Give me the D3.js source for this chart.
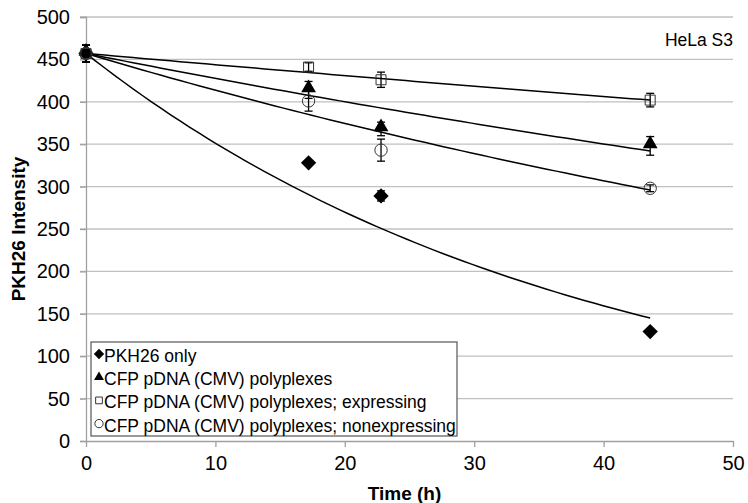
<!DOCTYPE html>
<html>
<head>
<meta charset="utf-8">
<script src="https://cdn.jsdelivr.net/npm/d3@7"></script>
<style>
  body { margin: 0; background: #fff; }
  text { font-family: "Liberation Sans", Arial, sans-serif; fill: #000; }
</style>
</head>
<body>
<div id="graph"></div>
<script>
// time points (h)
const times = [0, 17.2, 22.8, 43.6];

// series names
const seriesNames = [
  "PKH26 only",
  "CFP pDNA (CMV) polyplexes",
  "CFP pDNA (CMV) polyplexes; expressing",
  "CFP pDNA (CMV) polyplexes; nonexpressing"
];
const seriesSymbols = ["diamond", "triangle", "square", "circle"];

// mean intensity per series, one value per time point
const pkhOnly       = [457, 328, 289, 129];
const polyplexes    = [457, 414, 368, 348];
const expressing    = [457, 441, 426, 402];
const nonexpressing = [457, 401, 343, 298];

// error bar half-widths
const pkhOnlyErr       = [10, 0, 6, 0];
const polyplexesErr    = [10, 10, 8, 11];
const expressingErr    = [10, 5, 9, 8];
const nonexpressingErr = [10, 12, 13, 4];

// exponential trendlines y = a * exp(-k t), fitted in the original chart
const trendA = [457, 457, 457, 457];
const trendK = [0.02633, 0.00665, 0.00294, 0.00996];
const trendEnd = 43.6;

const xTicks = [0, 10, 20, 30, 40, 50];
const yTicks = [0, 50, 100, 150, 200, 250, 300, 350, 400, 450, 500];

const width = 748;
const height = 503;
const marginLeft = 86;
const marginRight = 15;
const marginTop = 17;
const marginBottom = 62;

const values = [pkhOnly, polyplexes, expressing, nonexpressing];
const errors = [pkhOnlyErr, polyplexesErr, expressingErr, nonexpressingErr];

const xScale = d3.scaleLinear()
                 .domain([0, 50])
                 .range([marginLeft, width - marginRight]);

const yScale = d3.scaleLinear()
                 .domain([0, 500])
                 .range([height - marginBottom, marginTop]);

const svg = d3.create("svg")
              .attr("width", width)
              .attr("height", height);

//gridlines
svg.append("g")
   .selectAll("line")
   .data(yTicks.filter(d => d > 0))
   .enter()
   .append("line")
   .attr("x1", marginLeft - 6)
   .attr("x2", width - marginRight)
   .attr("y1", d => yScale(d))
   .attr("y2", d => yScale(d))
   .attr("stroke", "#c0c0c0")
   .attr("stroke-width", 1.3)

//y-axis
const yAxis = d3.axisLeft(yScale)
                .tickValues(yTicks)
                .tickSize(6)
                .tickPadding(10)

svg.append("g")
   .attr("transform", `translate(${marginLeft}, 0)`)
   .call(yAxis)
   .call(g => g.select(".domain").attr("stroke", "#a0a0a0").attr("stroke-width", 1.3))
   .call(g => g.selectAll(".tick line").attr("stroke", "#a0a0a0").attr("stroke-width", 1.3))
   .call(g => g.selectAll("text").style("font-size", "20px"))

//x-axis
const xAxis = d3.axisBottom(xScale)
                .tickValues(xTicks)
                .tickSize(6)
                .tickPadding(9)
                .tickSizeOuter(0)

svg.append("g")
   .attr("transform", `translate(0, ${height - marginBottom})`)
   .call(xAxis)
   .call(g => g.select(".domain").attr("stroke", "#a0a0a0").attr("stroke-width", 1.3))
   .call(g => g.selectAll(".tick line").attr("stroke", "#a0a0a0").attr("stroke-width", 1.3))
   .call(g => g.selectAll("text").style("font-size", "20px"))

//axis titles
svg.append("text")
   .attr("x", xScale(25) - 5)
   .attr("y", height - 3)
   .attr("text-anchor", "middle")
   .style("font-size", "19px")
   .style("font-weight", "bold")
   .text("Time (h)")

svg.append("text")
   .attr("transform", "rotate(270)")
   .attr("x", -yScale(250))
   .attr("y", 25)
   .attr("text-anchor", "middle")
   .style("font-size", "19px")
   .style("font-weight", "bold")
   .text("PKH26 Intensity")

//trendlines
const trendLine = d3.line()
                    .x(d => xScale(d[0]))
                    .y(d => yScale(d[1]));

svg.append("g")
   .selectAll("path")
   .data(trendA.map((a, i) => d3.range(0, trendEnd + 0.01, trendEnd / 60).map(t => [t, a * Math.exp(-trendK[i] * t)])))
   .enter()
   .append("path")
   .attr("d", trendLine)
   .attr("fill", "none")
   .attr("stroke", "#000")
   .attr("stroke-width", 1.5)

//error bars
const errData = [];
values.forEach((s, i) => s.forEach((v, j) => {
  if (errors[i][j] > 0) errData.push({x: times[j], y: v, e: errors[i][j]});
}));

const bars = svg.append("g")
                .selectAll("g")
                .data(errData)
                .enter()
                .append("g")
                .attr("stroke", "#000")
                .attr("stroke-width", 1.3)

bars.append("line")
    .attr("x1", d => xScale(d.x))
    .attr("x2", d => xScale(d.x))
    .attr("y1", d => yScale(d.y - d.e))
    .attr("y2", d => yScale(d.y + d.e))

bars.append("line")
    .attr("x1", d => xScale(d.x) - 4)
    .attr("x2", d => xScale(d.x) + 4)
    .attr("y1", d => yScale(d.y - d.e))
    .attr("y2", d => yScale(d.y - d.e))

bars.append("line")
    .attr("x1", d => xScale(d.x) - 4)
    .attr("x2", d => xScale(d.x) + 4)
    .attr("y1", d => yScale(d.y + d.e))
    .attr("y2", d => yScale(d.y + d.e))

//markers
const symbolType = {
  diamond: d3.symbolDiamond2,
  triangle: d3.symbolTriangle,
  square: d3.symbolSquare,
  circle: d3.symbolCircle
};
const symbolSize = {diamond: 150, triangle: 95, square: 100, circle: 120};
const symbolFill = {diamond: "#000", triangle: "#000", square: "none", circle: "none"};

function marker(sel, name, scale) {
  sel.attr("d", d3.symbol(symbolType[name], symbolSize[name] * scale)())
     .attr("fill", symbolFill[name])
     .attr("stroke", symbolFill[name] === "none" ? "#333" : "none")
     .attr("stroke-width", 1)
}

values.forEach((s, i) => {
  svg.append("g")
     .selectAll("path")
     .data(s)
     .enter()
     .append("path")
     .attr("transform", (d, j) => `translate(${xScale(times[j])}, ${yScale(d) + (seriesSymbols[i] === "triangle" ? -2 : 0)})`)
     .call(marker, seriesSymbols[i], 1)
});

//cell line label
svg.append("text")
   .attr("x", width - marginRight)
   .attr("y", 46)
   .attr("text-anchor", "end")
   .style("font-size", "17.5px")
   .text("HeLa S3")

//legend
const legend = svg.append("g")
                  .attr("transform", "translate(91, 342)")

legend.append("rect")
      .attr("width", 366)
      .attr("height", 94)
      .attr("fill", "#fff")
      .attr("stroke", "#555")
      .attr("stroke-width", 1.2)

const legendItems = legend.selectAll(".item")
                          .data(seriesNames)
                          .enter()
                          .append("g")
                          .attr("class", "item")
                          .attr("transform", (d, i) => `translate(0, ${14 + i * 23.2})`)

legendItems.append("path")
           .attr("transform", "translate(8, -2)")
           .each(function(d, i) { d3.select(this).call(marker, seriesSymbols[i], 0.45); })

legendItems.append("text")
           .attr("x", 13)
           .attr("y", 6)
           .style("font-size", "17.5px")
           .text(d => d)

d3.select("#graph").append(() => svg.node());
</script>
</body>
</html>
